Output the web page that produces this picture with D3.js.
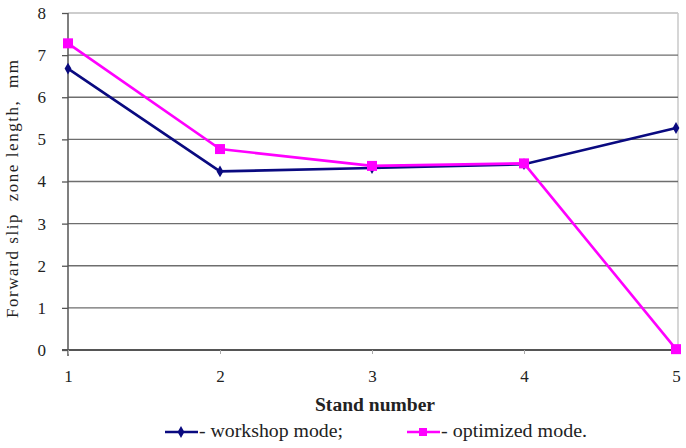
<!DOCTYPE html>
<html><head><meta charset="utf-8">
<script src="https://cdn.jsdelivr.net/npm/d3@7"></script>
<style>body{margin:0;background:#fff}svg{display:block}</style>
</head><body>
<svg id="c" width="686" height="448"></svg>
<script>
const stands = [1, 2, 3, 4, 5];
const workshop = [6.68, 4.24, 4.32, 4.41, 5.27];
const optimized = [7.28, 4.77, 4.37, 4.43, 0.02];
const yTicks = [0, 1, 2, 3, 4, 5, 6, 7, 8];
const seriesNames = ["- workshop mode;", "- optimized mode."];

const FF = '"Liberation Serif"';
const svg = d3.select("#c");
const m = {l: 68, r: 678, t: 13, b: 350};
const x = d3.scaleLinear().domain([1, 5]).range([m.l, 676]);
const y = d3.scaleLinear().domain([0, 8]).range([m.b, m.t]);

// plot border (light)
svg.append("line").attr("x1", m.l).attr("x2", m.r).attr("y1", m.t).attr("y2", m.t).attr("stroke", "#bdbdbd").attr("stroke-width", 1.5);
svg.append("line").attr("x1", m.r).attr("x2", m.r).attr("y1", m.t).attr("y2", m.b).attr("stroke", "#c8c8c8").attr("stroke-width", 1.5);

// grid
svg.append("g").selectAll("line").data(yTicks.filter(d => d > 0 && d < 8)).join("line")
  .attr("x1", m.l).attr("x2", m.r).attr("y1", d => y(d)).attr("y2", d => y(d))
  .attr("stroke", "#6e6e6e").attr("stroke-width", 1.3);

// y axis
const ya = svg.append("g").attr("transform", `translate(${m.l},0)`)
  .call(d3.axisLeft(y).tickValues(yTicks).tickSize(6).tickPadding(16).tickFormat(d3.format("d")));
ya.select(".domain").attr("stroke", "#555").attr("stroke-width", 1.5).attr("d", `M0,${m.t}V${m.b + 6}`);
ya.selectAll(".tick line").attr("stroke", "#555").attr("stroke-width", 1.3);
ya.selectAll("text").style("font-family", FF).style("font-size", "17px").attr("fill", "#222");

// x axis
const xa = svg.append("g").attr("transform", `translate(0,${m.b})`)
  .call(d3.axisBottom(x).tickValues(stands).tickSize(4).tickPadding(16).tickFormat(d3.format("d")));
xa.select(".domain").attr("stroke", "#555").attr("stroke-width", 1.8).attr("d", `M${m.l - 6},0H${m.r}`);
xa.selectAll(".tick line").attr("stroke", "#aaa").attr("stroke-width", 1);
xa.selectAll("text").style("font-family", FF).style("font-size", "17px").attr("fill", "#222");

// titles
svg.append("text").attr("x", 375).attr("y", 411).attr("text-anchor", "middle").style("font-family", FF)
  .style("font-size", "18px").style("font-weight", "bold").attr("fill", "#222")
  .attr("textLength", 120).attr("lengthAdjust", "spacingAndGlyphs").text("Stand number");
svg.append("text").attr("transform", "translate(18,189) rotate(-90)").attr("text-anchor", "middle").style("font-family", FF)
  .style("font-size", "17px").attr("fill", "#222").attr("textLength", 258).attr("lengthAdjust", "spacing")
  .style("white-space", "pre").text("Forward slip  zone length,  mm");

// lines
const line = d3.line().x((d, i) => x(stands[i])).y(d => y(d));
svg.append("path").datum(workshop).attr("d", line).attr("fill", "none").attr("stroke", "#0a0a80").attr("stroke-width", 2.6);
svg.append("path").datum(optimized).attr("d", line).attr("fill", "none").attr("stroke", "#ff00ff").attr("stroke-width", 2.6);

const diamond = d3.symbol().type(d3.symbolDiamond).size(40);
svg.append("g").selectAll("path").data(workshop).join("path")
  .attr("transform", (d, i) => `translate(${x(stands[i])},${y(d)})`).attr("d", diamond).attr("fill", "#0a0a80");
svg.append("g").selectAll("rect").data(optimized).join("rect")
  .attr("x", (d, i) => x(stands[i]) - 5).attr("y", d => y(d) - 5).attr("width", 10).attr("height", 10).attr("fill", "#ff00ff");

// legend
const lg = [{x: 165, c: "#0a0a80", t: seriesNames[0], m: "d", w: 144}, {x: 407, c: "#ff00ff", t: seriesNames[1], m: "s", w: 146}];
lg.forEach(o => {
  svg.append("line").attr("x1", o.x).attr("x2", o.x + 33).attr("y1", 432).attr("y2", 432).attr("stroke", o.c).attr("stroke-width", 2.6);
  if (o.m === "d") svg.append("path").attr("transform", `translate(${o.x + 16},432)`).attr("d", diamond).attr("fill", o.c);
  else svg.append("rect").attr("x", o.x + 12).attr("y", 428).attr("width", 8).attr("height", 8).attr("fill", o.c);
  svg.append("text").attr("x", o.x + 34).attr("y", 437).style("font-family", FF).style("font-size", "18px").attr("fill", "#222")
    .attr("textLength", o.w).attr("lengthAdjust", "spacingAndGlyphs").style("white-space", "pre").text(o.t);
});
</script>
</body></html>
